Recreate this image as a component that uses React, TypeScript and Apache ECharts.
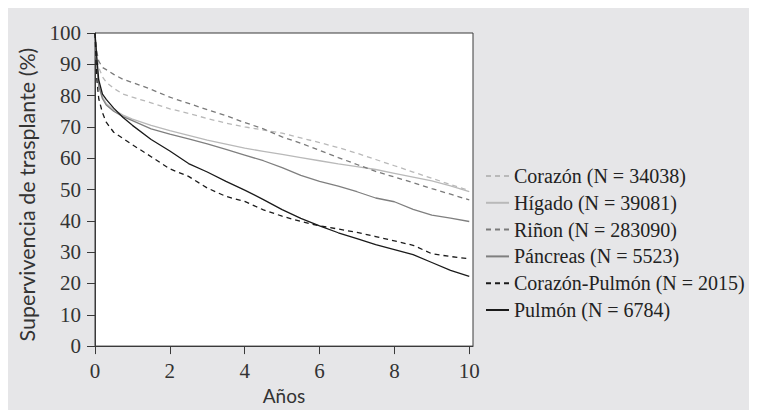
import React, { useEffect, useRef } from "react";
import * as echarts from "echarts";

const years = [0, 0.05, 0.1, 0.2, 0.3, 0.5, 0.75, 1, 1.5, 2, 2.5, 3, 3.5, 4, 4.5, 5, 5.5, 6, 6.5, 7, 7.5, 8, 8.5, 9, 9.5, 10];

const corazon = [100, 93, 89, 86, 84.3, 82.3, 80.5, 79.5, 77.7, 75.8, 74.3, 72.7, 71.2, 70, 69, 68, 66.5, 65, 63.4, 61.6, 59.6, 57.6, 55.6, 53.6, 51.6, 49.7];
const higado = [100, 90, 84, 79.5, 77.5, 75.5, 73.8, 72.5, 70.5, 68.8, 67.3, 65.8, 64.5, 63.2, 62.2, 61.2, 60.2, 59.2, 58.2, 57.3, 56.4, 55.2, 54, 52.8, 51.2, 49.3];
const rinon = [100, 94, 91, 89, 88.3, 86.8, 85.2, 84.2, 82, 79.5, 77.5, 75.5, 73.6, 71.4, 69.4, 66.8, 64.8, 62.5, 60.2, 58, 55.8, 54, 52.2, 50.3, 48.5, 46.7];
const pancreas = [100, 89, 83, 79, 77, 75, 73.3, 72, 69.4, 67.7, 66.2, 64.6, 62.8, 61, 59.2, 57, 54.5, 52.6, 51.1, 49.3, 47.3, 46.1, 43.7, 41.8, 40.9, 39.8];
const corazonPulmon = [100, 85, 79, 74.5, 71.5, 68.3, 66.3, 64.3, 60.5, 56.6, 54.2, 50.5, 47.8, 46.2, 43.5, 41.5, 39.8, 38.4, 37.4, 36.3, 35, 33.6, 32.2, 29.5, 28.6, 27.9];
const pulmon = [100, 92, 85, 80.5, 78.8, 76, 73, 70.5, 66, 62.3, 58.3, 55.6, 52.6, 49.8, 46.8, 43.6, 40.8, 38.4, 36.2, 34.3, 32.4, 30.8, 29.2, 26.7, 24.2, 22.3];

const seriesNames = [
  "Corazón (N = 34038)",
  "Hígado (N = 39081)",
  "Riñon (N = 283090)",
  "Páncreas (N = 5523)",
  "Corazón-Pulmón (N = 2015)",
  "Pulmón (N = 6784)",
];

const xTicks = [0, 2, 4, 6, 8, 10];

const SERIF = "'Liberation Serif', serif";
const SANS = "Lato, 'Open Sans', sans-serif";

export default function App() {
  const ref = useRef<HTMLDivElement>(null);
  useEffect(() => {
    if (!ref.current) return;
    const chart = echarts.init(ref.current, undefined, { renderer: "svg" });
    const values = [corazon, higado, rinon, pancreas, corazonPulmon, pulmon];
    const styles = [
      { color: "#b9b9b9", type: [5, 4] },
      { color: "#b9b9b9", type: "solid" },
      { color: "#7a7a7a", type: [5, 4] },
      { color: "#7f7f7f", type: "solid" },
      { color: "#1a1a1a", type: [5, 4] },
      { color: "#1a1a1a", type: "solid" },
    ];
    chart.setOption({
      animation: false,
      backgroundColor: "#e6e6e8",
      grid: {
        left: 86,
        top: 25,
        width: 379,
        height: 319,
        show: true,
        backgroundColor: "#ffffff",
        borderColor: "#3a3a3a",
        borderWidth: 1,
      },
      legend: {
        orient: "vertical",
        left: 477,
        top: 158,
        padding: 0,
        itemWidth: 23,
        itemHeight: 14,
        itemGap: 6.8,
        data: seriesNames,
        itemStyle: { opacity: 0 },
        textStyle: { fontFamily: SERIF, fontSize: 20, color: "#222" },
      },
      xAxis: {
        type: "value",
        min: 0,
        max: 10.1,
        name: "Años",
        nameLocation: "middle",
        nameGap: 38,
        nameTextStyle: { fontFamily: SANS, fontSize: 19, color: "#333" },
        axisLine: { show: true, lineStyle: { color: "#3a3a3a" } },
        axisTick: { show: true, length: 8, customValues: xTicks, lineStyle: { color: "#3a3a3a" } },
        axisLabel: { customValues: xTicks, margin: 14, fontFamily: SERIF, fontSize: 21, color: "#333" },
        splitLine: { show: false },
      },
      yAxis: {
        type: "value",
        min: 0,
        max: 100,
        interval: 10,
        name: "Supervivencia de trasplante (%)",
        nameLocation: "middle",
        nameGap: 57,
        nameTextStyle: { fontFamily: SANS, fontSize: 21.5, color: "#333", padding: [0, 10, 0, 0] },
        axisLine: { show: true, lineStyle: { color: "#3a3a3a" } },
        axisTick: { show: true, length: 8, lineStyle: { color: "#3a3a3a" } },
        axisLabel: { margin: 14, fontFamily: SERIF, fontSize: 21, color: "#333" },
        splitLine: { show: false },
      },
      series: seriesNames.map((name, i) => ({
        name,
        type: "line",
        symbol: "none",
        data: years.map((t, j) => [t, values[i][j]]),
        lineStyle: { color: styles[i].color, type: styles[i].type, width: 1.3 },
        itemStyle: { color: styles[i].color },
      })),
    });
    return () => chart.dispose();
  }, []);
  return <div ref={ref} style={{ width: 749, height: 402 }} />;
}
